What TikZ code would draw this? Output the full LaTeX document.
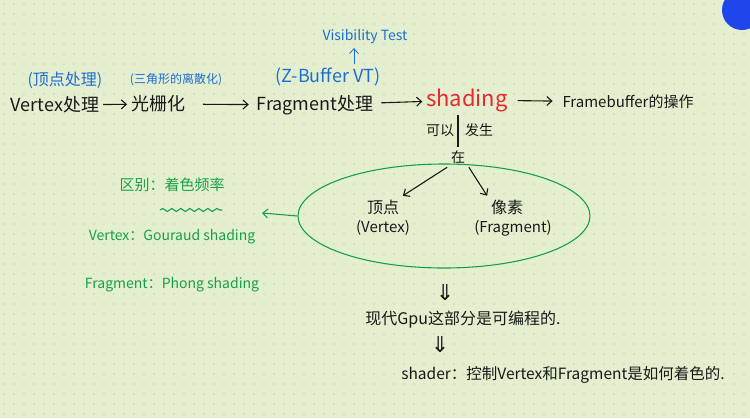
\documentclass[tikz,border=0pt]{standalone}
\usepackage{fontspec}
\setmainfont{Noto Sans CJK SC}
\newfontfamily\symfont{DejaVu Sans}
\usepackage{tikz}
\usetikzlibrary{arrows.meta,shapes.geometric,decorations.pathmorphing}

\definecolor{paper}{RGB}{228,239,208}
\definecolor{dotgray}{RGB}{196,210,182}
\definecolor{penblack}{RGB}{25,25,25}
\definecolor{penblue}{RGB}{30,110,210}
\definecolor{penred}{RGB}{232,40,45}
\definecolor{pengreen}{RGB}{25,160,70}
\definecolor{uiblue}{RGB}{30,70,235}

\begin{document}
\begin{tikzpicture}[x=1pt, y=-1pt, line width=1.1pt, penblack,
  >={Straight Barb[length=5pt, width=9pt]},
  ink/.style={text=penblack, font=\fontsize{18}{20}\selectfont},
  note/.style={text=penblue, font=\fontsize{16}{18}\selectfont},
  hint/.style={text=pengreen, font=\fontsize{14}{16}\selectfont}]
  \fill[paper] (0,0) rectangle (750,418);
  \useasboundingbox (0,0) rectangle (750,418);
  \foreach \i in {0,...,74}
    \foreach \j in {0,...,41}
      \fill[dotgray] (\i*10+4, \j*10+4) circle (0.8pt);
  \fill[uiblue] (742,10) circle (20pt);

  \node[ink] (A) at (55,105) {Vertex处理};
  \node[ink] (B) at (158,104) {光栅化};
  \node[ink] (C) at (315,105) {Fragment处理};
  \node[text=penred, font=\fontsize{22}{24}\selectfont] (D) at (467,100) {shading};
  \node[ink, font=\fontsize{15}{17}\selectfont] (E) at (628,102) {Framebuffer的操作};
  \draw[->] (A) to (B);
  \draw[->, shorten <=14pt, shorten >=4pt] (B) to (C);
  \draw[->, shorten <=4pt] (C) to (D);
  \draw[->, shorten <=6pt, shorten >=6pt] (D) to (E);

  \node[note] (F) at (65,80) {(顶点处理)};
  \node[note, font=\fontsize{12}{14}\selectfont] (G) at (176,80) {(三角形的离散化)};
  \node[note, font=\fontsize{18}{20}\selectfont] (H) at (328,77) {(Z-Buffer VT)};
  \node[note, font=\fontsize{14}{16}\selectfont] (I) at (365,37) {Visibility Test};
  \draw[->, penblue, line width=0.8pt] ([xshift=26pt]H.north) -- ([xshift=26pt]H.north |- I.south);

  \node[ink, font=\fontsize{14}{16}\selectfont] (J) at (458,157) {在};
  \node[ink, font=\fontsize{14}{16}\selectfont] (K) at (440,130) {可以};
  \node[ink, font=\fontsize{14}{16}\selectfont] (L) at (479,130) {发生};
  \draw (J.north) -- (J.north |- D.south);

  \node[ink, font=\fontsize{16}{18}\selectfont] (M) at (383,207) {顶点};
  \node[ink, font=\fontsize{15}{17}\selectfont] (N) at (383,228) {(Vertex)};
  \node[ink, font=\fontsize{16}{18}\selectfont] (O) at (507,207) {像素};
  \node[ink, font=\fontsize{15}{17}\selectfont] (P) at (513,228) {(Fragment)};
  \draw[->] (J.south west) to (M.north east);
  \draw[->] (J.south east) to (O.north west);

  \node[draw=pengreen, ellipse, minimum width=292pt, minimum height=104pt] (Q) at (444,216) {};
  \coordinate (Y) at (262,213);
  \draw[->, pengreen] (Q.west) -- (Y);

  \node[hint, font=\fontsize{15}{17}\selectfont] (R) at (172,185) {区别：着色频率};
  \draw[pengreen, decorate, decoration={snake, amplitude=1.5pt, segment length=9pt}] (160,210) -- (222,210);
  \node[hint] (S) at (172,237) {Vertex：Gouraud shading};
  \node[hint] (T) at (172,285) {Fragment：Phong shading};

  \node[text=penblack, font=\symfont\fontsize{22}{24}\selectfont] (U) at (445,293) {⇓};
  \node[ink, font=\fontsize{16}{18}\selectfont] (V) at (463,320) {现代Gpu这部分是可编程的.};
  \node[text=penblack, font=\symfont\fontsize{22}{24}\selectfont] (W) at (440,345) {⇓};
  \node[ink, font=\fontsize{15.5}{17}\selectfont] (X) at (563,375) {shader：控制Vertex和Fragment是如何着色的.};
\end{tikzpicture}
\end{document}
